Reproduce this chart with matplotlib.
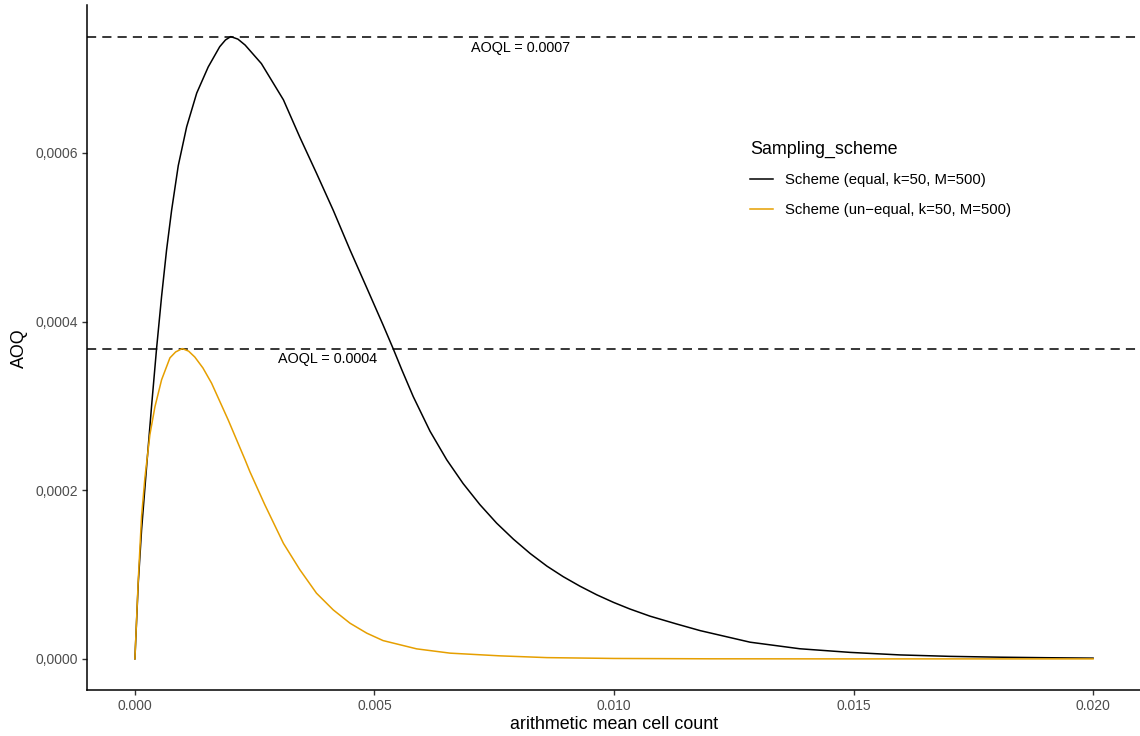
import matplotlib
matplotlib.use("Agg")
import matplotlib.pyplot as plt
from matplotlib.ticker import FuncFormatter

plt.rcParams['font.family'] = ['Liberation Sans', 'DejaVu Sans']

# Data
x_equal = [0.0, 0.00007, 0.000139, 0.000244, 0.000348, 0.000452, 0.000557, 0.000661, 0.000766,
           0.000905, 0.00108, 0.00129, 0.00153, 0.00177, 0.00189, 0.0020, 0.00215, 0.0023, 0.00264, 0.0031,
           0.00344, 0.00379, 0.00414, 0.00449, 0.00484, 0.00518, 0.00539, 0.00557, 0.00581,
           0.00616, 0.00651, 0.00685, 0.0072, 0.00755, 0.0079, 0.00825, 0.0086, 0.00894,
           0.00929, 0.00964, 0.00999, 0.01033, 0.01075, 0.0113, 0.0118, 0.01284, 0.01388,
           0.01493, 0.01597, 0.01701, 0.01806, 0.0190, 0.020]
aoq_equal = [0.0, 0.00009, 0.000153, 0.000228, 0.0003, 0.000368, 0.00043, 0.000485, 0.000532,
             0.000585, 0.000631, 0.000671, 0.000702, 0.000726, 0.000734, 0.000738, 0.000735, 0.000728, 0.000706, 0.000663,
             0.000619, 0.000576, 0.000532, 0.000485, 0.00044, 0.000396, 0.000368, 0.000343, 0.000311,
             0.00027, 0.000236, 0.000208, 0.000183, 0.000161, 0.000142, 0.000125, 0.00011, 0.0000975,
             0.0000862, 0.000076, 0.000067, 0.0000592, 0.0000507, 0.0000415, 0.0000335, 0.0000198, 0.000012,
             0.0000077, 0.0000047, 0.000003, 0.000002, 0.0000014, 0.0000009]

x_unequal = [0.0, 0.00007, 0.000139, 0.000209, 0.000313, 0.000418, 0.000557, 0.000731, 0.00085, 0.000988,
             0.00112, 0.00125, 0.00142, 0.0016, 0.00195, 0.0023, 0.0024, 0.00271, 0.0031, 0.00344, 0.00379,
             0.00414, 0.00449, 0.00484, 0.00518, 0.00588, 0.00658, 0.00762, 0.0086, 0.010,
             0.012, 0.015, 0.020]
aoq_unequal = [0.0, 0.0000937, 0.000169, 0.000215, 0.000266, 0.000299, 0.000331, 0.000357, 0.000364, 0.000368,
               0.000365, 0.000358, 0.000345, 0.000327, 0.000283, 0.000236, 0.000222, 0.000183, 0.000137, 0.000106, 0.0000779,
               0.0000581, 0.0000423, 0.0000305, 0.0000217, 0.0000119, 0.0000068, 0.0000036, 0.0000015, 0.0000005,
               0.0000001, 0.0, 0.0]

series_labels = ["Scheme (equal, k=50, M=500)", "Scheme (un\u2212equal, k=50, M=500)"]
series_colors = ["#000000", "#E69F00"]
aoql_labels = ["AOQL = 0.0007", "AOQL = 0.0004"]
aoql_text_x = [0.00804, 0.00403]
aoql_text_y = [0.000725, 0.000356]

x_ticks = [0.000, 0.005, 0.010, 0.015, 0.020]
y_ticks = [0.0, 0.0002, 0.0004, 0.0006]

fig = plt.figure(figsize=(11.4, 7.36), dpi=100)
ax = fig.add_axes([87/1140, 1 - 690/736, (1141 - 87)/1140, (690 - 5.4)/736])

ax.plot(x_equal, aoq_equal, color=series_colors[0], lw=1.1, label=series_labels[0], zorder=3,
        solid_joinstyle='round')
ax.plot(x_unequal, aoq_unequal, color=series_colors[1], lw=1.1, label=series_labels[1], zorder=3,
        solid_joinstyle='round')

for yv in (max(aoq_equal), max(aoq_unequal)):
    ax.axhline(yv, color='black', lw=1.1, ls=(0, (6, 4)), zorder=2)

for lab, tx, ty in zip(aoql_labels, aoql_text_x, aoql_text_y):
    ax.text(tx, ty, lab, ha='center', va='center', fontsize=10.4, color='black')

ax.set_xlim(-0.001, 0.021)
ax.set_ylim(-0.0000369, 0.000775)
ax.set_xticks(x_ticks)
ax.set_yticks(y_ticks)
ax.xaxis.set_major_formatter(FuncFormatter(lambda v, p: f"{v:.3f}"))
ax.yaxis.set_major_formatter(FuncFormatter(lambda v, p: f"{v:.4f}".replace('.', ',')))

for s in ['top', 'right']:
    ax.spines[s].set_visible(False)
for s in ['left', 'bottom']:
    ax.spines[s].set_linewidth(1.1)
ax.tick_params(axis='both', colors='#333333', labelcolor='#4D4D4D', labelsize=10,
               length=3.5, width=1.0, pad=3)

ax.set_xlabel("arithmetic mean cell count", fontsize=12.9, labelpad=2)
ax.set_ylabel("AOQ", fontsize=12.9, labelpad=5)

leg = ax.legend(title="Sampling_scheme", loc='upper left',
                bbox_to_anchor=((737 - 87)/1054, 1 - (127 - 5.4)/684.6),
                frameon=False, fontsize=10.7, title_fontsize=12.9,
                handlelength=1.5, handletextpad=0.85, labelspacing=1.05,
                alignment='left')

fig.savefig("out.png", dpi=100)
